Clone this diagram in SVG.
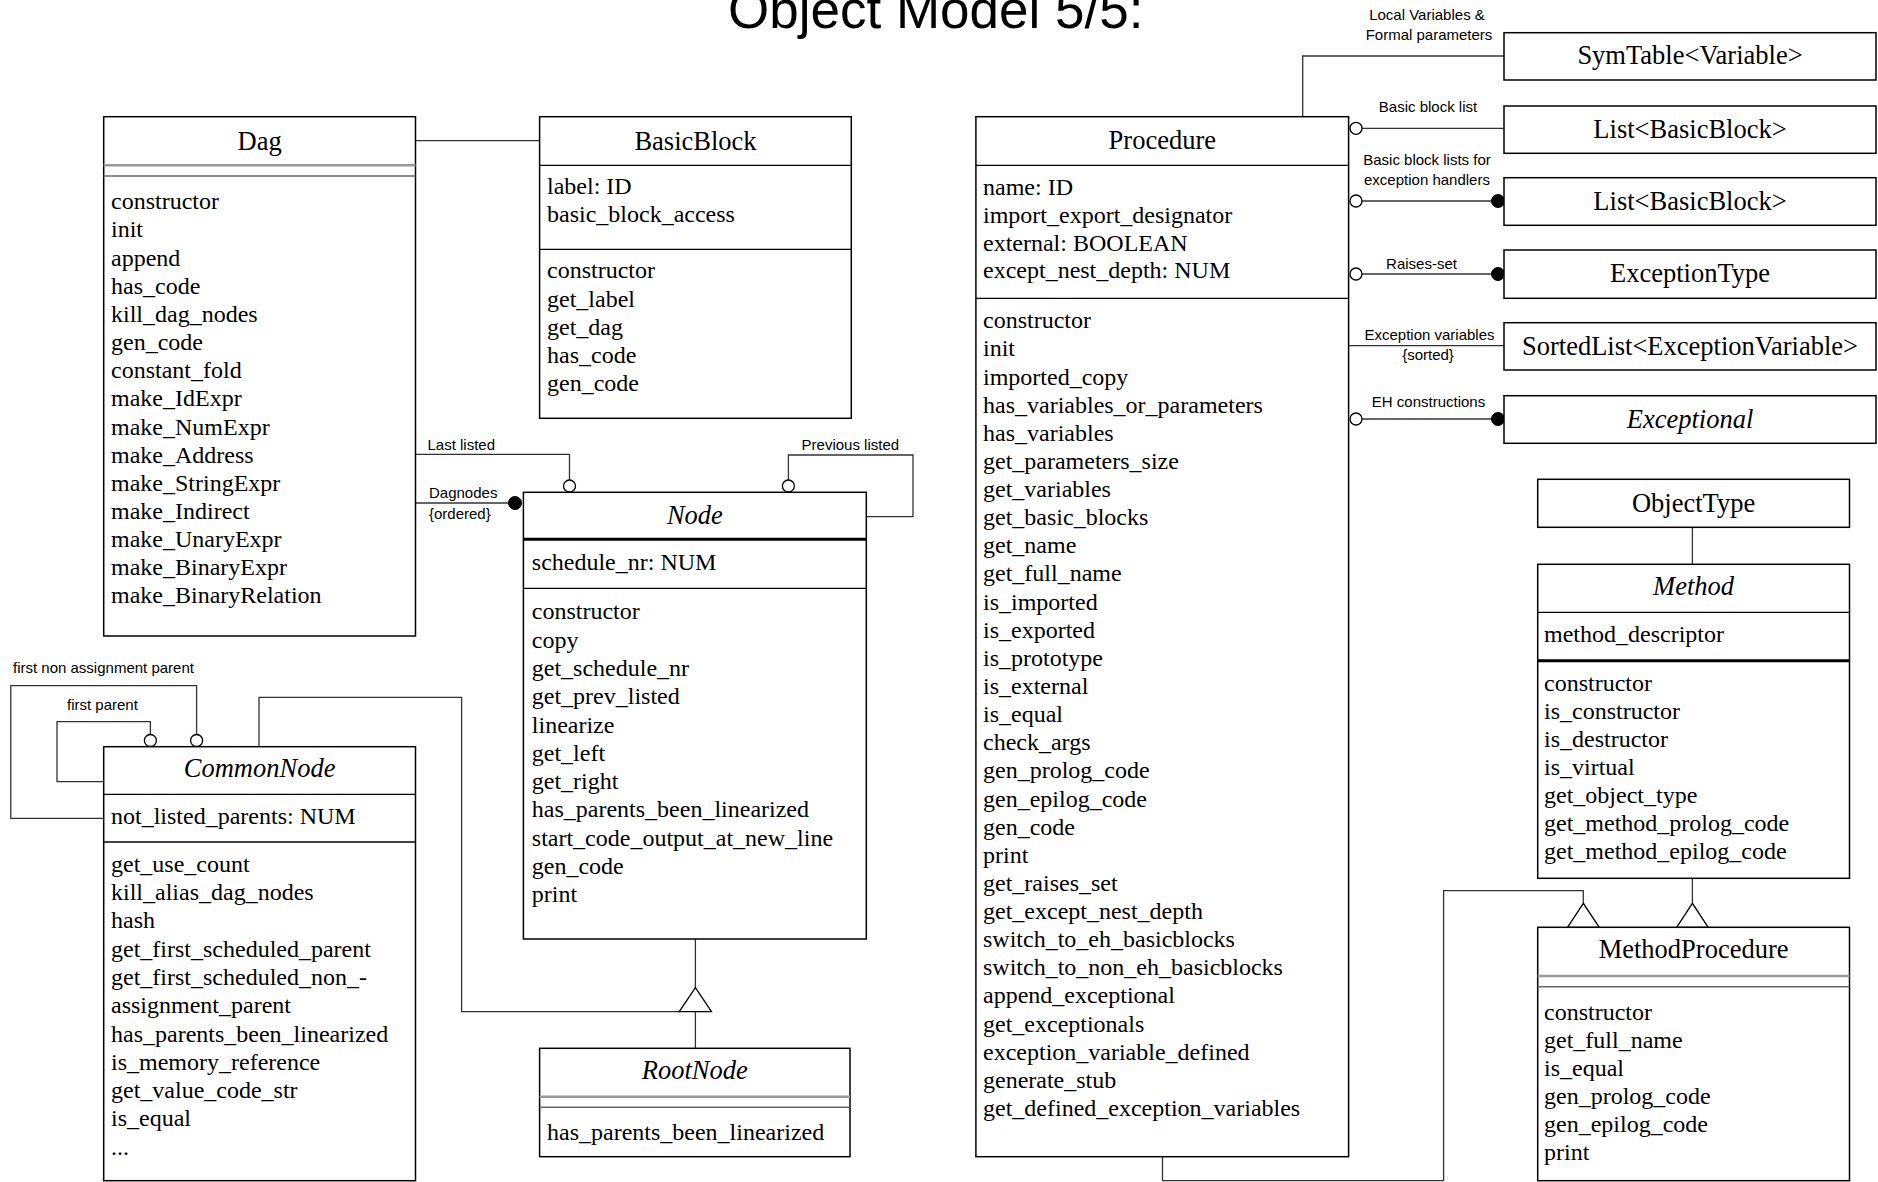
<svg xmlns="http://www.w3.org/2000/svg" width="1878" height="1182" viewBox="0 0 1878 1182">
  <style>
    .box { fill: #fff; stroke: #000; stroke-width: 1.5; }
    .sep { stroke: #000; stroke-width: 1.3; }
    .thick { stroke: #000; stroke-width: 3; }
    .dbl1 { stroke: #999; stroke-width: 2.5; }
    .dbl2 { stroke: #666; stroke-width: 1.5; }
    .t { font-family: "Liberation Serif", "Times New Roman", serif; font-size: 24px; fill: #000; }
    .h { font-size: 26.5px; text-anchor: middle; }
    .i { font-style: italic; }
    .lbl { font-family: "Liberation Sans", Arial, sans-serif; font-size: 15px; fill: #000; }
    .mid { text-anchor: middle; }
    .conn { fill: none; stroke: #333; stroke-width: 1.3; }
    .open { fill: #fff; stroke: #000; stroke-width: 1.3; }
    .full { fill: #000; stroke: #000; stroke-width: 1; }
    .tri { fill: #fff; stroke: #000; stroke-width: 1.3; }
  </style>

  <rect width="1878" height="1182" fill="#fff"/>

  <text x="728" y="28" font-family="Liberation Sans, Arial, sans-serif" font-size="53">Object Model 5/5:</text>

  <!-- connectors -->
  <g id="connectors">
    <!-- Dag - BasicBlock -->
    <path class="conn" d="M415.5 140.7 H539.6"/>
    <!-- Dag - Node: Last listed -->
    <path class="conn" d="M415.5 454.3 H569.5 V480"/>
    <circle class="open" cx="569.5" cy="486" r="6"/>
    <!-- Dag - Node: Dagnodes -->
    <path class="conn" d="M415.5 503 H508"/>
    <circle class="full" cx="515" cy="503" r="6.5"/>
    <!-- Node self: Previous listed -->
    <path class="conn" d="M866.3 516.7 H913 V455 H788.4 V480"/>
    <circle class="open" cx="788.4" cy="486" r="6"/>
    <!-- CommonNode self: first parent -->
    <path class="conn" d="M103.7 781.7 H57 V721.7 H150.4 V734.5"/>
    <circle class="open" cx="150.4" cy="740.5" r="6"/>
    <!-- CommonNode self: first non assignment parent -->
    <path class="conn" d="M103.7 818.3 H10.8 V685.7 H196.6 V734.5"/>
    <circle class="open" cx="196.6" cy="740.5" r="6"/>
    <!-- generalization to Node -->
    <path class="conn" d="M259 746.7 V697.3 H461.6 V1011.7 H679.3"/>
    <path class="conn" d="M695.4 939 V987.7"/>
    <path class="conn" d="M695.4 1011.7 V1048.3"/>
    <path class="tri" d="M695.4 987.7 L679.3 1011.7 H711.5 Z"/>

    <!-- Procedure associations -->
    <path class="conn" d="M1302.7 116.7 V56 H1504"/>
    <path class="conn" d="M1362 128.3 H1504"/>
    <circle class="open" cx="1356" cy="128.3" r="6"/>
    <path class="conn" d="M1362 201 H1492"/>
    <circle class="open" cx="1356" cy="201" r="6"/>
    <circle class="full" cx="1498" cy="201" r="6.5"/>
    <path class="conn" d="M1362 274 H1492"/>
    <circle class="open" cx="1356" cy="274" r="6"/>
    <circle class="full" cx="1498" cy="274" r="6.5"/>
    <path class="conn" d="M1348.6 345.7 H1504"/>
    <path class="conn" d="M1362 419 H1492"/>
    <circle class="open" cx="1356" cy="419" r="6"/>
    <circle class="full" cx="1498" cy="419" r="6.5"/>

    <!-- ObjectType - Method -->
    <path class="conn" d="M1692.4 527.3 V564.3"/>
    <!-- generalization of MethodProcedure -->
    <path class="conn" d="M1162.5 1156.7 V1180.7 H1443.6 V890.7 H1583.3 V903.3"/>
    <path class="tri" d="M1583.3 903.3 L1567.5 927.3 H1599.3 Z"/>
    <path class="conn" d="M1692.4 878.3 V903.3"/>
    <path class="tri" d="M1692.4 903.3 L1676.6 927.3 H1708.2 Z"/>
  </g>

  <!-- association labels -->
  <g id="labels" class="lbl">
    <text class="mid" x="1427" y="20">Local  Variables &amp;</text>
    <text class="mid" x="1429" y="40">Formal parameters</text>
    <text class="mid" x="1428" y="111.5">Basic block list</text>
    <text class="mid" x="1427" y="165">Basic block lists for</text>
    <text class="mid" x="1427" y="184.5">exception handlers</text>
    <text class="mid" x="1421.5" y="269">Raises-set</text>
    <text class="mid" x="1429.5" y="340">Exception variables</text>
    <text class="mid" x="1428" y="360">{sorted}</text>
    <text class="mid" x="1428.5" y="407">EH constructions</text>
    <text x="427.5" y="450">Last listed</text>
    <text x="429" y="498">Dagnodes</text>
    <text x="429" y="519">{ordered}</text>
    <text x="801.6" y="450">Previous listed</text>
    <text x="13" y="672.5">first non assignment parent</text>
    <text x="67" y="710">first parent</text>
  </g>

  <!-- Dag -->
  <g id="dag">
    <rect class="box" x="103.7" y="116.7" width="311.8" height="519.3"/>
    <line class="dbl1" x1="103.7" y1="165.3" x2="415.5" y2="165.3"/>
    <line class="dbl2" x1="103.7" y1="176" x2="415.5" y2="176"/>
    <text class="t h" x="259.6" y="150">Dag</text>
    <text class="t">
      <tspan x="111" y="209.3">constructor</tspan>
      <tspan x="111" dy="28.15">init</tspan>
      <tspan x="111" dy="28.15">append</tspan>
      <tspan x="111" dy="28.15">has_code</tspan>
      <tspan x="111" dy="28.15">kill_dag_nodes</tspan>
      <tspan x="111" dy="28.15">gen_code</tspan>
      <tspan x="111" dy="28.15">constant_fold</tspan>
      <tspan x="111" dy="28.15">make_IdExpr</tspan>
      <tspan x="111" dy="28.15">make_NumExpr</tspan>
      <tspan x="111" dy="28.15">make_Address</tspan>
      <tspan x="111" dy="28.15">make_StringExpr</tspan>
      <tspan x="111" dy="28.15">make_Indirect</tspan>
      <tspan x="111" dy="28.15">make_UnaryExpr</tspan>
      <tspan x="111" dy="28.15">make_BinaryExpr</tspan>
      <tspan x="111" dy="28.15">make_BinaryRelation</tspan>
    </text>
  </g>

  <!-- BasicBlock -->
  <g id="basicblock">
    <rect class="box" x="539.6" y="116.7" width="311.7" height="301.6"/>
    <line class="sep" x1="539.6" y1="165.3" x2="851.3" y2="165.3"/>
    <line class="sep" x1="539.6" y1="249.3" x2="851.3" y2="249.3"/>
    <text class="t h" x="695.5" y="150">BasicBlock</text>
    <text class="t">
      <tspan x="547" y="194.3">label: ID</tspan>
      <tspan x="547" dy="28">basic_block_access</tspan>
    </text>
    <text class="t">
      <tspan x="547" y="278.4">constructor</tspan>
      <tspan x="547" dy="28.1">get_label</tspan>
      <tspan x="547" dy="28.1">get_dag</tspan>
      <tspan x="547" dy="28.1">has_code</tspan>
      <tspan x="547" dy="28.1">gen_code</tspan>
    </text>
  </g>

  <!-- Node -->
  <g id="node">
    <rect class="box" x="523.4" y="492.3" width="342.9" height="446.7"/>
    <line class="thick" x1="523.4" y1="539.3" x2="866.3" y2="539.3"/>
    <line class="sep" x1="523.4" y1="588.3" x2="866.3" y2="588.3"/>
    <text class="t h i" x="694.9" y="524">Node</text>
    <text class="t" x="531.8" y="570">schedule_nr: NUM</text>
    <text class="t">
      <tspan x="531.8" y="619.3">constructor</tspan>
      <tspan x="531.8" dy="28.3">copy</tspan>
      <tspan x="531.8" dy="28.3">get_schedule_nr</tspan>
      <tspan x="531.8" dy="28.3">get_prev_listed</tspan>
      <tspan x="531.8" dy="28.3">linearize</tspan>
      <tspan x="531.8" dy="28.3">get_left</tspan>
      <tspan x="531.8" dy="28.3">get_right</tspan>
      <tspan x="531.8" dy="28.3">has_parents_been_linearized</tspan>
      <tspan x="531.8" dy="28.3">start_code_output_at_new_line</tspan>
      <tspan x="531.8" dy="28.3">gen_code</tspan>
      <tspan x="531.8" dy="28.3">print</tspan>
    </text>
  </g>

  <!-- CommonNode -->
  <g id="commonnode">
    <rect class="box" x="103.7" y="746.7" width="311.8" height="434"/>
    <line class="sep" x1="103.7" y1="794.3" x2="415.5" y2="794.3"/>
    <line class="sep" x1="103.7" y1="842" x2="415.5" y2="842"/>
    <text class="t h i" x="259.6" y="777">CommonNode</text>
    <text class="t" x="111" y="824">not_listed_parents: NUM</text>
    <text class="t">
      <tspan x="111" y="871.7">get_use_count</tspan>
      <tspan x="111" dy="28.3">kill_alias_dag_nodes</tspan>
      <tspan x="111" dy="28.3">hash</tspan>
      <tspan x="111" dy="28.3">get_first_scheduled_parent</tspan>
      <tspan x="111" dy="28.3">get_first_scheduled_non_-</tspan>
      <tspan x="111" dy="28.3">assignment_parent</tspan>
      <tspan x="111" dy="28.3">has_parents_been_linearized</tspan>
      <tspan x="111" dy="28.3">is_memory_reference</tspan>
      <tspan x="111" dy="28.3">get_value_code_str</tspan>
      <tspan x="111" dy="28.3">is_equal</tspan>
      <tspan x="111" dy="28.3">...</tspan>
    </text>
  </g>

  <!-- RootNode -->
  <g id="rootnode">
    <rect class="box" x="539.6" y="1048.3" width="310.4" height="108.4"/>
    <line class="dbl1" x1="539.6" y1="1096.7" x2="850" y2="1096.7"/>
    <line class="dbl2" x1="539.6" y1="1107.3" x2="850" y2="1107.3"/>
    <text class="t h i" x="694.8" y="1079">RootNode</text>
    <text class="t" x="547" y="1140">has_parents_been_linearized</text>
  </g>

  <!-- Procedure -->
  <g id="procedure">
    <rect class="box" x="975.9" y="116.7" width="372.7" height="1040"/>
    <line class="sep" x1="975.9" y1="165.3" x2="1348.6" y2="165.3"/>
    <line class="sep" x1="975.9" y1="298.3" x2="1348.6" y2="298.3"/>
    <text class="t h" x="1162.3" y="149">Procedure</text>
    <text class="t">
      <tspan x="983" y="195">name: ID</tspan>
      <tspan x="983" dy="27.8">import_export_designator</tspan>
      <tspan x="983" dy="27.8">external: BOOLEAN</tspan>
      <tspan x="983" dy="27.8">except_nest_depth: NUM</tspan>
    </text>
    <text class="t">
      <tspan x="983" y="328.3">constructor</tspan>
      <tspan x="983" dy="28.13">init</tspan>
      <tspan x="983" dy="28.13">imported_copy</tspan>
      <tspan x="983" dy="28.13">has_variables_or_parameters</tspan>
      <tspan x="983" dy="28.13">has_variables</tspan>
      <tspan x="983" dy="28.13">get_parameters_size</tspan>
      <tspan x="983" dy="28.13">get_variables</tspan>
      <tspan x="983" dy="28.13">get_basic_blocks</tspan>
      <tspan x="983" dy="28.13">get_name</tspan>
      <tspan x="983" dy="28.13">get_full_name</tspan>
      <tspan x="983" dy="28.13">is_imported</tspan>
      <tspan x="983" dy="28.13">is_exported</tspan>
      <tspan x="983" dy="28.13">is_prototype</tspan>
      <tspan x="983" dy="28.13">is_external</tspan>
      <tspan x="983" dy="28.13">is_equal</tspan>
      <tspan x="983" dy="28.13">check_args</tspan>
      <tspan x="983" dy="28.13">gen_prolog_code</tspan>
      <tspan x="983" dy="28.13">gen_epilog_code</tspan>
      <tspan x="983" dy="28.13">gen_code</tspan>
      <tspan x="983" dy="28.13">print</tspan>
      <tspan x="983" dy="28.13">get_raises_set</tspan>
      <tspan x="983" dy="28.13">get_except_nest_depth</tspan>
      <tspan x="983" dy="28.13">switch_to_eh_basicblocks</tspan>
      <tspan x="983" dy="28.13">switch_to_non_eh_basicblocks</tspan>
      <tspan x="983" dy="28.13">append_exceptional</tspan>
      <tspan x="983" dy="28.13">get_exceptionals</tspan>
      <tspan x="983" dy="28.13">exception_variable_defined</tspan>
      <tspan x="983" dy="28.13">generate_stub</tspan>
      <tspan x="983" dy="28.13">get_defined_exception_variables</tspan>
    </text>
  </g>

  <!-- associated types -->
  <g id="symtable">
    <rect class="box" x="1504" y="32.7" width="372" height="47.3"/>
    <text class="t h" x="1690" y="64">SymTable&lt;Variable&gt;</text>
  </g>
  <g id="bblist">
    <rect class="box" x="1504" y="106" width="372" height="47.3"/>
    <text class="t h" x="1690" y="137.5">List&lt;BasicBlock&gt;</text>
  </g>
  <g id="ehbblist">
    <rect class="box" x="1504" y="177.7" width="372" height="47.6"/>
    <text class="t h" x="1690" y="209.5">List&lt;BasicBlock&gt;</text>
  </g>
  <g id="exceptiontype">
    <rect class="box" x="1504" y="250" width="372" height="48.3"/>
    <text class="t h" x="1690" y="282">ExceptionType</text>
  </g>
  <g id="sortedlist">
    <rect class="box" x="1504" y="322.7" width="372" height="47.3"/>
    <text class="t h" x="1690" y="354.5">SortedList&lt;ExceptionVariable&gt;</text>
  </g>
  <g id="exceptional">
    <rect class="box" x="1504" y="395.7" width="372" height="47.6"/>
    <text class="t h i" x="1690" y="427.5">Exceptional</text>
  </g>

  <!-- ObjectType -->
  <g id="objecttype">
    <rect class="box" x="1537.7" y="479.3" width="311.8" height="48"/>
    <text class="t h" x="1693.6" y="511.7">ObjectType</text>
  </g>

  <!-- Method -->
  <g id="method">
    <rect class="box" x="1537.7" y="564.3" width="311.8" height="314"/>
    <line class="sep" x1="1537.7" y1="612.3" x2="1849.5" y2="612.3"/>
    <line class="thick" x1="1537.7" y1="660.7" x2="1849.5" y2="660.7"/>
    <text class="t h i" x="1693.6" y="595">Method</text>
    <text class="t" x="1544" y="641.7">method_descriptor</text>
    <text class="t">
      <tspan x="1544" y="690.7">constructor</tspan>
      <tspan x="1544" dy="28.1">is_constructor</tspan>
      <tspan x="1544" dy="28.1">is_destructor</tspan>
      <tspan x="1544" dy="28.1">is_virtual</tspan>
      <tspan x="1544" dy="28.1">get_object_type</tspan>
      <tspan x="1544" dy="28.1">get_method_prolog_code</tspan>
      <tspan x="1544" dy="28.1">get_method_epilog_code</tspan>
    </text>
  </g>

  <!-- MethodProcedure -->
  <g id="methodprocedure">
    <rect class="box" x="1537.7" y="927.3" width="311.8" height="253.4"/>
    <line class="dbl1" x1="1537.7" y1="976" x2="1849.5" y2="976"/>
    <line class="dbl2" x1="1537.7" y1="986.7" x2="1849.5" y2="986.7"/>
    <text class="t h" x="1693.6" y="958">MethodProcedure</text>
    <text class="t">
      <tspan x="1544" y="1020">constructor</tspan>
      <tspan x="1544" dy="28">get_full_name</tspan>
      <tspan x="1544" dy="28">is_equal</tspan>
      <tspan x="1544" dy="28">gen_prolog_code</tspan>
      <tspan x="1544" dy="28">gen_epilog_code</tspan>
      <tspan x="1544" dy="28">print</tspan>
    </text>
  </g>
</svg>
